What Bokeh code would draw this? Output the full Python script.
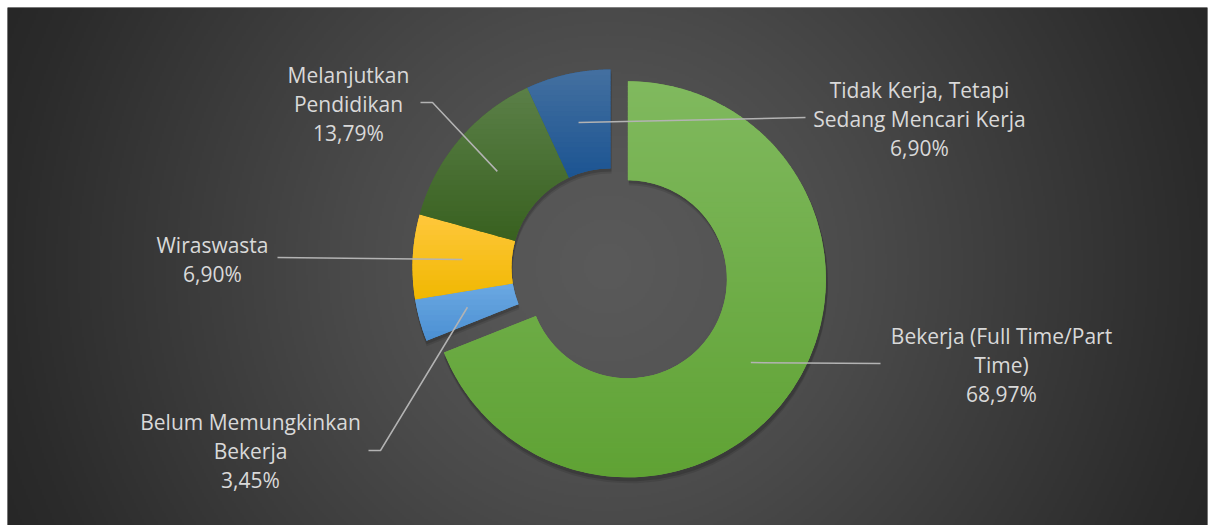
import numpy as np
from bokeh.plotting import figure
from bokeh.models import Range1d, ColumnDataSource
from bokeh.core.properties import value
from bokeh.embed import file_html
from bokeh.resources import INLINE

# ---------------- data ----------------
categories = [
    "Bekerja (Full Time/Part Time)",
    "Belum Memungkinkan Bekerja",
    "Wiraswasta",
    "Melanjutkan Pendidikan",
    "Tidak Kerja, Tetapi Sedang Mencari Kerja",
]
values = [68.97, 3.45, 6.90, 13.79, 6.90]
label_wrapped = [
    "Bekerja (Full Time/Part\nTime)",
    "Belum Memungkinkan\nBekerja",
    "Wiraswasta",
    "Melanjutkan\nPendidikan",
    "Tidak Kerja, Tetapi\nSedang Mencari Kerja",
]
pct_labels = [f"{v:.2f}".replace(".", ",") + "%" for v in values]

# ---------------- styles / layout ----------------
colors_top = ["#80b95e", "#6ba8e2", "#ffc83c", "#5b8048", "#4470a0"]
colors_bot = ["#5fa234", "#4a8fd2", "#f0b700", "#38601f", "#1b5492"]
colors_mid = ["#70ad47", "#5b9bd5", "#ffc000", "#486f33", "#2a5f96"]
explode = [21, 0, 0, 0, 0]

W, H = 1200, 518          # frame size
CX, CY = 603.0, 258.0
R_OUT, R_IN = 198.0, 99.0
TEXT_COLOR = "#d9d9d9"
LEADER_COLOR = "#b3b3b3"
FONT = "Open Sans"
FONT_SIZE = "21px"
LINE_STEP = 29

# label block centres and leader outer points (layout)
label_pos = [(994, 161), (243, 74.5), (205, 266), (341, 421.5), (912, 406.5)]
leader_outer = [
    [(873, 162)],
    [(361, 75), (373, 75)],
    [(270, 268)],
    [(413, 423), (425, 423)],
    [(798, 408)],
]

p = figure(width=W + 9, height=H + 7, x_range=Range1d(0, W), y_range=Range1d(0, H),
           output_backend="svg", toolbar_location=None,
           min_border_left=7, min_border_top=7, min_border_right=2, min_border_bottom=0,
           x_axis_type=None, y_axis_type=None)
p.grid.visible = False
p.outline_line_color = None
p.background_fill_color = "#262626"
p.border_fill_color = "white"

# ---------------- background radial gradient ----------------
gw, gh = 600, 259
gx = np.linspace(0, W, gw)
gy = np.linspace(0, H, gh)
GX, GY = np.meshgrid(gx, gy)
d = np.hypot(GX - W / 2, GY - H / 2)
gray = np.interp(d, [0, 120, 258, 596, 670], [90, 85, 74, 43, 38]).astype(np.uint8)
img = np.zeros((gh, gw), dtype=np.uint32)
view = img.view(dtype=np.uint8).reshape((gh, gw, 4))
view[:, :, 0] = gray
view[:, :, 1] = gray
view[:, :, 2] = gray
view[:, :, 3] = 255
p.image_rgba(image=[img], x=0, y=0, dw=W, dh=H)

# ---------------- slice geometry ----------------
vals = np.array(values, dtype=float)
frac = vals / vals.sum()
cum = np.concatenate([[0.0], np.cumsum(frac)])
th1 = 2 * np.pi * cum[:-1]   # clockwise from 12 o'clock
th2 = 2 * np.pi * cum[1:]
mid = (th1 + th2) / 2
ex = np.array(explode, dtype=float)
cxs = CX + ex * np.sin(mid)
cys = CY + ex * np.cos(mid)

src = ColumnDataSource(dict(
    x=cxs, y=cys,
    start=np.pi / 2 - th2, end=np.pi / 2 - th1,
    color=colors_mid, cat=categories,
))

# soft shadow
for off, a in [(5, 0.10), (3, 0.14)]:
    p.annular_wedge(x=cxs + 1, y=cys - off, inner_radius=R_IN, outer_radius=R_OUT + 1,
                    start_angle=np.pi / 2 - th2, end_angle=np.pi / 2 - th1,
                    fill_color="black", fill_alpha=a, line_color=None)

p.annular_wedge(x="x", y="y", inner_radius=R_IN, outer_radius=R_OUT,
                start_angle="start", end_angle="end", fill_color="color",
                line_color=None, source=src)


# gradient strips (vertical gradient per slice, like the original fill)
def hex2rgb(h):
    h = h.lstrip("#")
    return np.array([int(h[i:i + 2], 16) for i in (0, 2, 4)], dtype=float)


def clip(poly, yv, keep_above):
    out = []
    n = len(poly)
    for i in range(n):
        a = poly[i]
        b = poly[(i + 1) % n]
        ina = a[1] >= yv if keep_above else a[1] <= yv
        inb = b[1] >= yv if keep_above else b[1] <= yv
        if ina:
            out.append(a)
        if ina != inb:
            t = (yv - a[1]) / (b[1] - a[1])
            out.append((a[0] + t * (b[0] - a[0]), yv))
    return out


sx, sy, sc = [], [], []
for i in range(len(values)):
    ts = np.linspace(th1[i], th2[i], 160)
    outer = [(cxs[i] + R_OUT * np.sin(t), cys[i] + R_OUT * np.cos(t)) for t in ts]
    inner = [(cxs[i] + R_IN * np.sin(t), cys[i] + R_IN * np.cos(t)) for t in ts[::-1]]
    poly = outer + inner
    ysl = [q[1] for q in poly]
    ytop, ybot = max(ysl), min(ysl)
    ct, cb = hex2rgb(colors_top[i]), hex2rgb(colors_bot[i])
    nb = max(4, int((ytop - ybot) / 5))
    edges = np.linspace(ybot, ytop, nb + 1)
    for k in range(nb):
        lo = edges[k] - (0.6 if k > 0 else 0)
        hi = edges[k + 1]
        piece = clip(clip(poly, lo, True), hi, False)
        if len(piece) < 3:
            continue
        t = ((edges[k] + edges[k + 1]) / 2 - ybot) / (ytop - ybot)
        c = cb + (ct - cb) * t
        sx.append([q[0] for q in piece])
        sy.append([q[1] for q in piece])
        sc.append("#%02x%02x%02x" % tuple(int(round(v)) for v in c))
p.patches(xs=sx, ys=sy, fill_color=sc, line_color=None)

# ---------------- leader lines ----------------
R_MID = (R_IN + R_OUT) / 2
lx, ly = [], []
for i in range(len(values)):
    ix = cxs[i] + R_MID * np.sin(mid[i])
    iy = cys[i] + R_MID * np.cos(mid[i])
    pts = leader_outer[i] + [(ix, iy)]
    lx.append([q[0] for q in pts])
    ly.append([q[1] for q in pts])
p.multi_line(xs=lx, ys=ly, line_color=LEADER_COLOR, line_width=1.5)

# ---------------- labels ----------------
tx, ty, tt = [], [], []
for i in range(len(values)):
    lines = label_wrapped[i].split("\n") + [pct_labels[i]]
    n = len(lines)
    x0, y0 = label_pos[i]
    for k, s in enumerate(lines):
        tx.append(x0)
        ty.append(y0 + ((n - 1) / 2 - k) * LINE_STEP)
        tt.append(s)
p.text(x=tx, y=ty, text=tt, text_align="center", text_baseline="middle",
       text_color=TEXT_COLOR, text_font=value(FONT), text_font_size=FONT_SIZE)

open("out.html", "w").write(file_html(p, INLINE))
